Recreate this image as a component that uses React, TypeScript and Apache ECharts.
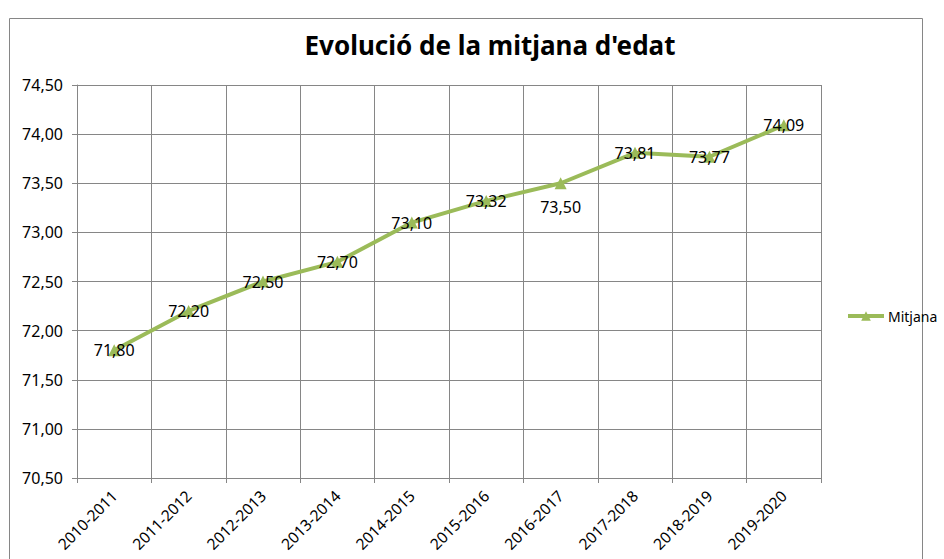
import React, { useEffect, useRef } from "react";
import * as echarts from "echarts";

const categories = [
  "2010-2011", "2011-2012", "2012-2013", "2013-2014", "2014-2015",
  "2015-2016", "2016-2017", "2017-2018", "2018-2019", "2019-2020",
];
const mitjana = [71.8, 72.2, 72.5, 72.7, 73.1, 73.32, 73.5, 73.81, 73.77, 74.09];
const labelBelow = [false, false, false, false, false, false, true, false, false, false];
const seriesName = "Mitjana";
const titleText = "Evolució de la mitjana d'edat";

const fmt = (v: number) => v.toFixed(2).replace(".", ",");

export default function App() {
  const ref = useRef<HTMLDivElement>(null);
  useEffect(() => {
    if (!ref.current) return;
    const chart = echarts.init(ref.current, null, { renderer: "svg" });
    const font = "'Noto Sans', sans-serif";
    const green = "#9BBB59";
    chart.setOption({
      animation: false,
      backgroundColor: "#ffffff",
      textStyle: { fontFamily: font },
      title: {
        text: titleText,
        left: 485,
        top: 27,
        textAlign: "center",
        textStyle: { fontFamily: font, fontSize: 26, fontWeight: "bold", color: "#000" },
      },
      graphic: [
        {
          type: "rect",
          shape: { x: 9.5, y: 18.5, width: 913, height: 560 },
          style: { fill: "none", stroke: "#868686", lineWidth: 1 },
          silent: true,
        },
      ],
      legend: {
        data: [seriesName],
        left: 846,
        top: 309,
        padding: 0,
        itemWidth: 36,
        itemHeight: 12,
        itemGap: 4,
        lineStyle: { width: 4, color: green },
        textStyle: { fontFamily: font, fontSize: 14, color: "#000", padding: [0, 0, 0, -1] },
      },
      grid: { left: 77, right: 123, top: 85, bottom: 81 },
      xAxis: {
        type: "category",
        data: categories,
        boundaryGap: true,
        axisLine: { show: true, lineStyle: { color: "#868686", width: 1 } },
        axisTick: { show: true, length: 5, lineStyle: { color: "#868686" } },
        splitLine: { show: true, lineStyle: { color: "#868686", width: 1 } },
        axisLabel: {
          rotate: 45,
          margin: 15,
          fontFamily: font,
          fontSize: 15.5,
          color: "#000",
          interval: 0,
        },
      },
      yAxis: {
        type: "value",
        min: 70.5,
        max: 74.5,
        interval: 0.5,
        axisLine: { show: true, lineStyle: { color: "#868686", width: 1 } },
        axisTick: { show: true, length: 5, lineStyle: { color: "#868686" } },
        splitLine: { show: true, lineStyle: { color: "#868686", width: 1 } },
        axisLabel: {
          margin: 14,
          fontFamily: font,
          fontSize: 16,
          color: "#000",
          formatter: (v: number) => fmt(v),
        },
      },
      series: [
        {
          name: seriesName,
          type: "line",
          data: mitjana.map((v, i) => ({
            value: v,
            label: { position: labelBelow[i] ? "bottom" : "inside", distance: 10 },
          })),
          symbol: "triangle",
          symbolSize: 12,
          lineStyle: { color: green, width: 4 },
          itemStyle: { color: green },
          label: {
            show: true,
            fontFamily: font,
            fontSize: 16,
            color: "#000",
            formatter: (p: any) => fmt(p.value),
          },
        },
      ],
    });
    return () => chart.dispose();
  }, []);
  return (
    <div
      ref={ref}
      style={{ position: "fixed", left: 0, top: 0, width: 944, height: 559 }}
    />
  );
}
